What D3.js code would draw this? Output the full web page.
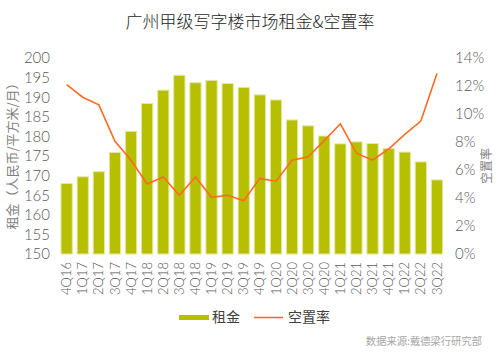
<!DOCTYPE html>
<html>
<head>
<meta charset="utf-8">
<script src="https://cdn.jsdelivr.net/npm/d3@7"></script>
<style>
  body { margin: 0; background: #fff; }
  svg text { font-family: Lato, "Noto Sans CJK SC", sans-serif; }
  .cjk { font-family: "Noto Sans CJK SC", sans-serif; }
</style>
</head>
<body>
<div id="chart"></div>
<script>
// quarters
var quarters = ["4Q16","1Q17","2Q17","3Q17","4Q17","1Q18","2Q18","3Q18","4Q18","1Q19","2Q19","3Q19","4Q19",
                "1Q20","2Q20","3Q20","4Q20","1Q21","2Q21","3Q21","4Q21","1Q22","2Q22","3Q22"];
// rent, RMB / sqm / month
var rent = [168.0,169.7,171.0,175.9,181.3,188.4,191.8,195.6,193.7,194.3,193.5,192.5,190.6,
            189.3,184.2,182.7,180.1,178.1,178.6,178.2,176.9,176.0,173.5,168.9];
// vacancy rate, %
var vacancy = [12.1,11.2,10.65,8.05,6.7,5.0,5.5,4.2,5.5,4.05,4.2,3.8,5.4,
               5.2,6.7,6.95,8.1,9.3,7.2,6.7,7.5,8.55,9.5,12.9];
var rentTicks = [150,155,160,165,170,175,180,185,190,195,200];
var vacTicks = [0,2,4,6,8,10,12,14];

var width = 500, height = 358;
var svg = d3.select("#chart").append("svg")
    .attr("width", width)
    .attr("height", height);

var x = d3.scaleBand()
    .domain(quarters)
    .range([58.6, 445])
    .paddingInner(0.3)
    .paddingOuter(0.15);

var yL = d3.scaleLinear().domain([150, 200]).range([254, 58]);
var yR = d3.scaleLinear().domain([0, 14]).range([254, 58]);

// title
svg.append("text")
    .attr("class", "cjk")
    .attr("x", 250).attr("y", 28)
    .attr("text-anchor", "middle")
    .style("font-size", "17px")
    .style("font-weight", 300)
    .style("fill", "#262626")
    .text("广州甲级写字楼市场租金&空置率");

// bars
svg.append("g").selectAll("rect")
    .data(rent)
    .enter()
    .append("rect")
    .attr("x", (d, i) => x(quarters[i]))
    .attr("y", d => yL(d))
    .attr("width", x.bandwidth())
    .attr("height", d => yL(150) - yL(d))
    .attr("fill", "#b6bf00")
    .attr("stroke", "#e4e8a6")
    .attr("stroke-width", 1);

// vacancy line
var line = d3.line()
    .x((d, i) => x(quarters[i]) + x.bandwidth() / 2)
    .y(d => yR(d));

svg.append("path")
    .datum(vacancy)
    .attr("d", line)
    .attr("fill", "none")
    .attr("stroke", "#ff6b22")
    .attr("stroke-width", 1.6);

// left axis
var axL = svg.append("g")
    .attr("transform", "translate(52,0)")
    .call(d3.axisLeft(yL).tickValues(rentTicks).tickSize(0).tickPadding(2));
axL.select(".domain").remove();
axL.selectAll("text")
    .style("font-size", "15px")
    .style("font-weight", 300)
    .style("fill", "#595959");

// right axis
var axR = svg.append("g")
    .attr("transform", "translate(453,0)")
    .call(d3.axisRight(yR).tickValues(vacTicks).tickSize(0).tickPadding(2)
        .tickFormat(d => d + "%"));
axR.select(".domain").remove();
axR.selectAll("text")
    .style("font-size", "15px")
    .style("font-weight", 300)
    .style("fill", "#595959");

// x axis
var axX = svg.append("g")
    .attr("transform", "translate(0,254)")
    .call(d3.axisBottom(x).tickSize(0));
axX.select(".domain").remove();
axX.selectAll("text")
    .attr("transform", "rotate(-90)")
    .attr("x", -8)
    .attr("y", 0)
    .attr("dy", "0.35em")
    .attr("text-anchor", "end")
    .style("font-size", "13px")
    .style("font-weight", 300)
    .style("fill", "#595959");

// axis titles
svg.append("text")
    .attr("class", "cjk")
    .attr("transform", "translate(17,153) rotate(-90)")
    .attr("text-anchor", "middle")
    .style("font-size", "13px")
    .style("fill", "#7f7f7f")
    .text("租金（人民币/平方米/月）");

svg.append("text")
    .attr("class", "cjk")
    .attr("transform", "translate(491,166) rotate(-90)")
    .attr("text-anchor", "middle")
    .style("font-size", "12px")
    .style("fill", "#7f7f7f")
    .text("空置率");

// legend
var lg = svg.append("g");
lg.append("rect")
    .attr("x", 179).attr("y", 315)
    .attr("width", 30).attr("height", 5)
    .attr("fill", "#b6bf00");
lg.append("text")
    .attr("class", "cjk")
    .attr("x", 212).attr("y", 322)
    .style("font-size", "14px")
    .style("fill", "#404040")
    .text("租金");
lg.append("line")
    .attr("x1", 254).attr("x2", 283)
    .attr("y1", 317.5).attr("y2", 317.5)
    .attr("stroke", "#ff6b22")
    .attr("stroke-width", 1.6);
lg.append("text")
    .attr("class", "cjk")
    .attr("x", 288).attr("y", 322)
    .style("font-size", "14px")
    .style("fill", "#404040")
    .text("空置率");

// source
svg.append("text")
    .attr("class", "cjk")
    .attr("x", 482).attr("y", 345)
    .attr("text-anchor", "end")
    .style("font-size", "10.3px")
    .style("fill", "#a6a6a6")
    .text("数据来源:戴德梁行研究部");
</script>
</body>
</html>
